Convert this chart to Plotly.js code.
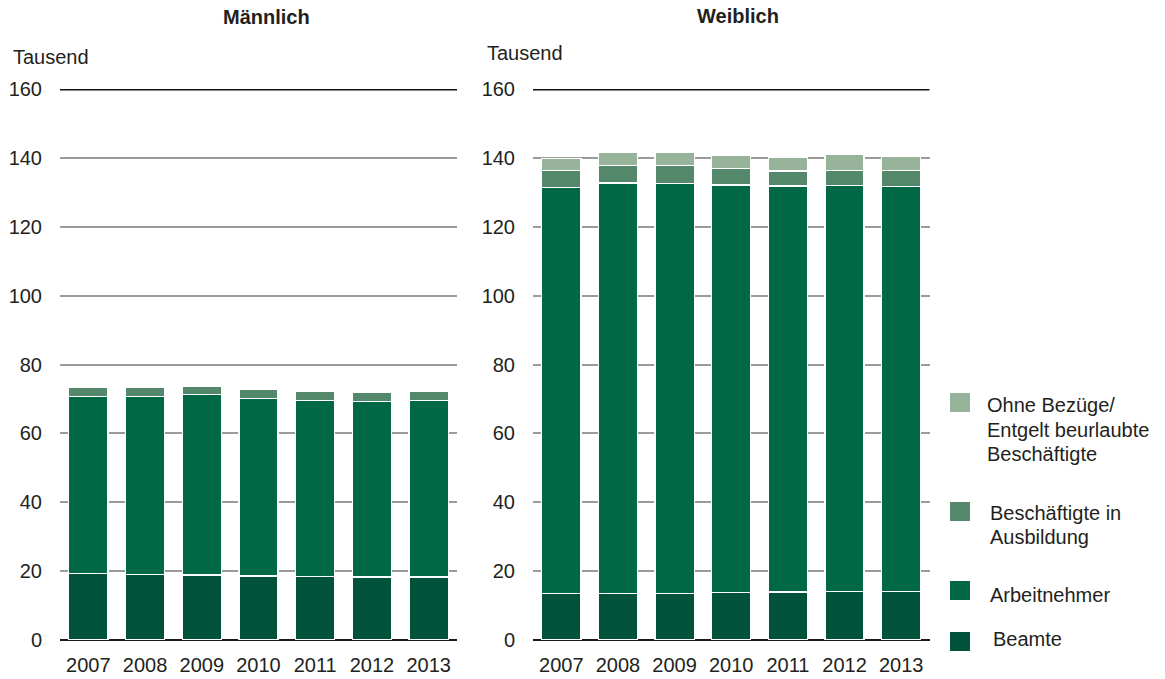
<!DOCTYPE html>
<html>
<head>
<meta charset="utf-8">
<script src="https://cdn.plot.ly/plotly-3.0.1.min.js"></script>
<style>
  html, body { margin: 0; padding: 0; background: #fff; }
  #chart { width: 1165px; height: 679px; }
</style>
</head>
<body>
<div id="chart"></div>
<script>
// ---- Data (thousands) ----
const years = ['2007', '2008', '2009', '2010', '2011', '2012', '2013'];
const seriesNames = ['Beamte', 'Arbeitnehmer', 'Beschäftigte in Ausbildung', 'Ohne Bezüge/ Entgelt beurlaubte Beschäftigte'];

const maleBeamte       = [19.4, 19.1, 18.9, 18.6, 18.4, 18.3, 18.3];
const maleArbeitnehmer = [51.4, 51.7, 52.4, 51.5, 51.1, 51.0, 51.2];
const maleAusbildung   = [2.5, 2.5, 2.5, 2.6, 2.7, 2.7, 2.7];
const maleOhneBezuege  = [0, 0, 0, 0, 0, 0, 0];

const femaleBeamte       = [13.5, 13.5, 13.5, 13.8, 13.9, 14.1, 14.1];
const femaleArbeitnehmer = [117.9, 119.2, 119.0, 118.3, 117.9, 117.8, 117.5];
const femaleAusbildung   = [4.9, 5.0, 5.2, 4.9, 4.4, 4.4, 4.7];
const femaleOhneBezuege  = [3.5, 3.9, 3.9, 3.7, 4.0, 4.6, 4.1];

const yTickVals = [0, 20, 40, 60, 80, 100, 120, 140, 160];
const panelTitles = ['Männlich', 'Weiblich'];
const unitLabel = 'Tausend';
const legendLines = [
  ['Ohne Bezüge/', 'Entgelt beurlaubte', 'Beschäftigte'],
  ['Beschäftigte in', 'Ausbildung'],
  ['Arbeitnehmer'],
  ['Beamte']
];

// ---- Styling ----
const colors = ['#00523A', '#006845', '#53896A', '#97B49A'];
const W = 1165, H = 679;
const FONT = 'Liberation Sans, Arial, sans-serif';
const TXT = '#231F20';
const px = x => x / W;
const py = y => 1 - y / H;

const maleSeries = [maleBeamte, maleArbeitnehmer, maleAusbildung, maleOhneBezuege];
const femaleSeries = [femaleBeamte, femaleArbeitnehmer, femaleAusbildung, femaleOhneBezuege];

const traces = [];
function addPanel(series, xa, ya) {
  series.forEach((vals, i) => {
    traces.push({
      type: 'bar',
      x: years,
      y: vals,
      name: seriesNames[i],
      xaxis: xa,
      yaxis: ya,
      marker: { color: colors[i], line: { color: '#ffffff', width: 1.3 } },
      showlegend: false,
      hoverinfo: 'x+y+name'
    });
  });
}
addPanel(maleSeries, 'x', 'y');
addPanel(femaleSeries, 'x2', 'y2');

const yDomain = [py(640), py(89)];

function yAxis(anchor) {
  return {
    domain: yDomain,
    anchor: anchor,
    range: [0, 160],
    tickvals: yTickVals,
    ticks: 'outside',
    ticklen: 13,
    tickcolor: 'rgba(0,0,0,0)',
    showgrid: true,
    gridcolor: '#9b9b9b',
    gridwidth: 2,
    zeroline: true,
    zerolinecolor: '#1a1a1a',
    zerolinewidth: 2.5,
    showline: false,
    tickfont: { family: FONT, size: 20, color: TXT },
    fixedrange: true
  };
}
function xAxis(domain, anchor) {
  return {
    domain: domain,
    anchor: anchor,
    type: 'category',
    range: [-0.5, 6.5],
    ticks: 'outside',
    ticklen: 7,
    tickcolor: 'rgba(0,0,0,0)',
    showgrid: false,
    showline: false,
    zeroline: false,
    tickfont: { family: FONT, size: 20, color: TXT },
    fixedrange: true
  };
}

const shapes = [
  { type: 'line', xref: 'x domain', yref: 'y', x0: 0, x1: 1, y0: 160, y1: 160, line: { color: '#111', width: 3 } },
  { type: 'line', xref: 'x2 domain', yref: 'y2', x0: 0, x1: 1, y0: 160, y1: 160, line: { color: '#111', width: 3 } }
];

// legend squares
const legendSquareTops = [393, 502, 581, 632];
const legendOrder = [3, 2, 1, 0]; // series index per legend entry
legendOrder.forEach((si, k) => {
  shapes.push({
    type: 'rect', xref: 'paper', yref: 'paper',
    x0: px(950), x1: px(970), y0: py(legendSquareTops[k]), y1: py(legendSquareTops[k] + 19),
    fillcolor: colors[si], line: { width: 0 }
  });
});

const annotations = [
  { text: '<b>' + panelTitles[0] + '</b>', x: px(266), y: py(17), xref: 'paper', yref: 'paper', showarrow: false, xanchor: 'center', yanchor: 'middle', font: { family: FONT, size: 20, color: TXT } },
  { text: '<b>' + panelTitles[1] + '</b>', x: px(738), y: py(16), xref: 'paper', yref: 'paper', showarrow: false, xanchor: 'center', yanchor: 'middle', font: { family: FONT, size: 20, color: TXT } },
  { text: unitLabel, x: px(11), y: py(57), xref: 'paper', yref: 'paper', showarrow: false, xanchor: 'left', yanchor: 'middle', font: { family: FONT, size: 20, color: TXT } },
  { text: unitLabel, x: px(485), y: py(53), xref: 'paper', yref: 'paper', showarrow: false, xanchor: 'left', yanchor: 'middle', font: { family: FONT, size: 20, color: TXT } }
];

const legendLineY = [[405, 430, 454], [513, 537], [595], [639]];
const legendLineX = [985, 988, 988, 991];
legendLines.forEach((lines, k) => {
  lines.forEach((t, j) => {
    annotations.push({
      text: t, x: px(legendLineX[k]), y: py(legendLineY[k][j]), xref: 'paper', yref: 'paper',
      showarrow: false, xanchor: 'left', yanchor: 'middle',
      font: { family: FONT, size: 20, color: TXT }
    });
  });
});

const layout = {
  width: W,
  height: H,
  margin: { l: 0, r: 0, t: 0, b: 0 },
  paper_bgcolor: '#ffffff',
  plot_bgcolor: '#ffffff',
  barmode: 'stack',
  bargap: 0.31,
  showlegend: false,
  xaxis: xAxis([px(60), px(457)], 'y'),
  yaxis: yAxis('x'),
  xaxis2: xAxis([px(533), px(929.5)], 'y2'),
  yaxis2: yAxis('x2'),
  shapes: shapes,
  annotations: annotations,
  font: { family: FONT, color: TXT }
};

Plotly.newPlot('chart', traces, layout, { displayModeBar: false, staticPlot: true });
</script>
</body>
</html>
